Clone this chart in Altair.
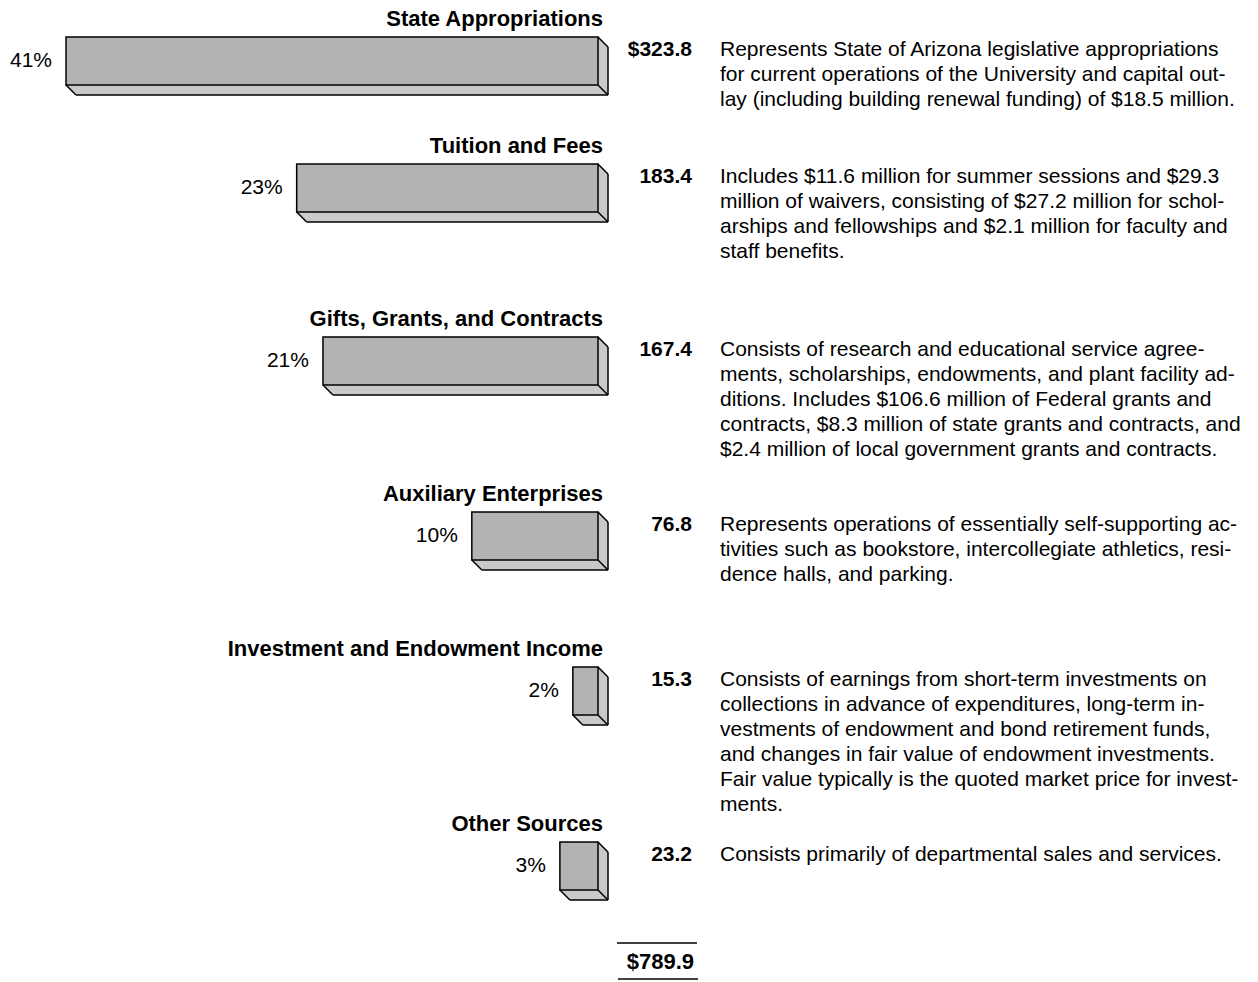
import altair as alt
import pandas as pd

# Sources of current revenue (millions of dollars)
categories = [
    "State Appropriations",
    "Tuition and Fees",
    "Gifts, Grants, and Contracts",
    "Auxiliary Enterprises",
    "Investment and Endowment Income",
    "Other Sources",
]
amounts = [323.8, 183.4, 167.4, 76.8, 15.3, 23.2]
shares = [41, 23, 21, 10, 2, 3]
descriptions = [
    [
        "Represents State of Arizona legislative appropriations",
        "for current operations of the University and capital out-",
        "lay (including building renewal funding) of $18.5 million.",
    ],
    [
        "Includes $11.6 million for summer sessions and $29.3",
        "million of waivers, consisting of $27.2 million for schol-",
        "arships and fellowships and $2.1 million for faculty and",
        "staff benefits.",
    ],
    [
        "Consists of research and educational service agree-",
        "ments, scholarships, endowments, and plant facility ad-",
        "ditions.  Includes $106.6 million of Federal grants and",
        "contracts, $8.3 million of state grants and contracts, and",
        "$2.4 million of local government grants and contracts.",
    ],
    [
        "Represents operations of essentially self-supporting ac-",
        "tivities such as bookstore, intercollegiate athletics, resi-",
        "dence halls, and parking.",
    ],
    [
        "Consists of earnings from short-term investments on",
        "collections in advance of expenditures, long-term in-",
        "vestments of endowment and bond retirement funds,",
        "and changes in fair value of endowment investments.",
        "Fair value typically is the quoted market price for invest-",
        "ments.",
    ],
    ["Consists primarily of departmental sales and services."],
]

# Page layout (pixels): top edge of each bar's front face
row_top = [37, 164, 337, 512, 667, 842]
BAR_H = 48
DEPTH = 10
LINE_H = 25
FONT = "Liberation Sans"
FRONT = "#b3b3b3"
SIDE = "#c9c9c9"

rows = pd.DataFrame({
    "category": categories,
    "amount": amounts,
    "share": [f"{s}%" for s in shares],
    "amount_label": [("$" if i == 0 else "") + f"{v:.1f}" for i, v in enumerate(amounts)],
    "top": row_top,
})
rows["bottom"] = rows["top"] + BAR_H

lines = pd.DataFrame([
    {"line": text, "y": row_top[i] + 13 + j * LINE_H}
    for i, block in enumerate(descriptions)
    for j, text in enumerate(block)
])
firsts = rows.assign(y=rows["top"] + 13)

total = pd.DataFrame({"label": [f"${sum(amounts):.1f}"], "y": [962]})

xs = alt.Scale(domain=[0, max(amounts)], range=[598, 66])
ys = alt.Scale(domain=[0, 982], range=[0, 982])

X = alt.X("amount:Q", scale=xs, axis=None)
X0 = alt.X(datum=0, scale=xs, axis=None)
Y_TOP = alt.Y("top:Q", scale=ys, axis=None)
Y_BOT = alt.Y("bottom:Q", scale=ys, axis=None)

base = alt.Chart(rows)

# extruded faces (right side and underside)
back = base.mark_rect(fill=SIDE, xOffset=DEPTH, x2Offset=DEPTH, yOffset=DEPTH, y2Offset=DEPTH).encode(
    x=X, x2=alt.X2(datum=0), y=Y_TOP, y2="bottom:Q"
)
corner_tr = base.mark_point(shape="M0,0 L10,10 L0,10 Z", size=4, filled=True, fill=SIDE, opacity=1,
                            strokeWidth=0).encode(x=X0, y=Y_TOP)
corner_bl = base.mark_point(shape="M0,0 L10,10 L10,0 Z", size=4, filled=True, fill=SIDE, opacity=1,
                            strokeWidth=0).encode(x=X, y=Y_BOT)

front = base.mark_rect(fill=FRONT, stroke="black", strokeWidth=1.5).encode(
    x=X, x2=alt.X2(datum=0), y=Y_TOP, y2="bottom:Q"
)

edge = dict(color="black", strokeWidth=1.5)
right_edge = base.mark_rule(xOffset=DEPTH, x2Offset=DEPTH, yOffset=DEPTH, y2Offset=DEPTH, **edge).encode(
    x=X0, x2=alt.X2(datum=0), y=Y_TOP, y2="bottom:Q"
)
bottom_edge = base.mark_rule(xOffset=DEPTH, x2Offset=DEPTH, yOffset=DEPTH, y2Offset=DEPTH, **edge).encode(
    x=X, x2=alt.X2(datum=0), y=Y_BOT, y2="bottom:Q"
)
diag_tr = base.mark_rule(x2Offset=DEPTH, y2Offset=DEPTH, **edge).encode(
    x=X0, x2=alt.X2(datum=0), y=Y_TOP, y2="top:Q"
)
diag_br = base.mark_rule(x2Offset=DEPTH, y2Offset=DEPTH, **edge).encode(
    x=X0, x2=alt.X2(datum=0), y=Y_BOT, y2="bottom:Q"
)
diag_bl = base.mark_rule(x2Offset=DEPTH, y2Offset=DEPTH, **edge).encode(
    x=X, x2="amount:Q", y=Y_BOT, y2="bottom:Q"
)

cat_text = base.mark_text(align="right", baseline="middle", font=FONT, fontSize=22,
                          fontWeight="bold", dx=5, dy=-18, color="black").encode(
    x=X0, y=Y_TOP, text="category:N"
)
pct_text = base.mark_text(align="right", baseline="middle", font=FONT, fontSize=21,
                          dx=-14, dy=BAR_H / 2, color="black").encode(
    x=X, y=Y_TOP, text="share:N"
)
val_text = alt.Chart(firsts).mark_text(align="right", baseline="middle", font=FONT, fontSize=21,
                                       fontWeight="bold", color="black").encode(
    x=alt.value(692), y=alt.Y("y:Q", scale=ys, axis=None), text="amount_label:N"
)
desc_text = alt.Chart(lines).mark_text(align="left", baseline="middle", font=FONT, fontSize=21,
                                       color="black").encode(
    x=alt.value(720), y=alt.Y("y:Q", scale=ys, axis=None), text="line:N"
)

total_text = alt.Chart(total).mark_text(align="right", baseline="middle", font=FONT, fontSize=22,
                                        fontWeight="bold", color="black").encode(
    x=alt.value(694), y=alt.Y("y:Q", scale=ys, axis=None), text="label:N"
)
total_top = alt.Chart(total).mark_rule(color="black", strokeWidth=1.5).encode(
    x=alt.value(617), x2=alt.value(697), y=alt.value(943)
)
total_bot = alt.Chart(total).mark_rule(color="black", strokeWidth=1.5).encode(
    x=alt.value(618), x2=alt.value(698), y=alt.value(979)
)

chart = alt.layer(
    back, corner_tr, corner_bl, front,
    right_edge, bottom_edge, diag_tr, diag_br, diag_bl,
    cat_text, pct_text, val_text, desc_text,
    total_text, total_top, total_bot,
).properties(
    width=1258, height=982, padding=0, autosize=alt.AutoSizeParams(type="none"),
    background="white",
).configure_view(stroke=None)

chart.save("out.html", embed_options={"renderer": "svg", "actions": False})
